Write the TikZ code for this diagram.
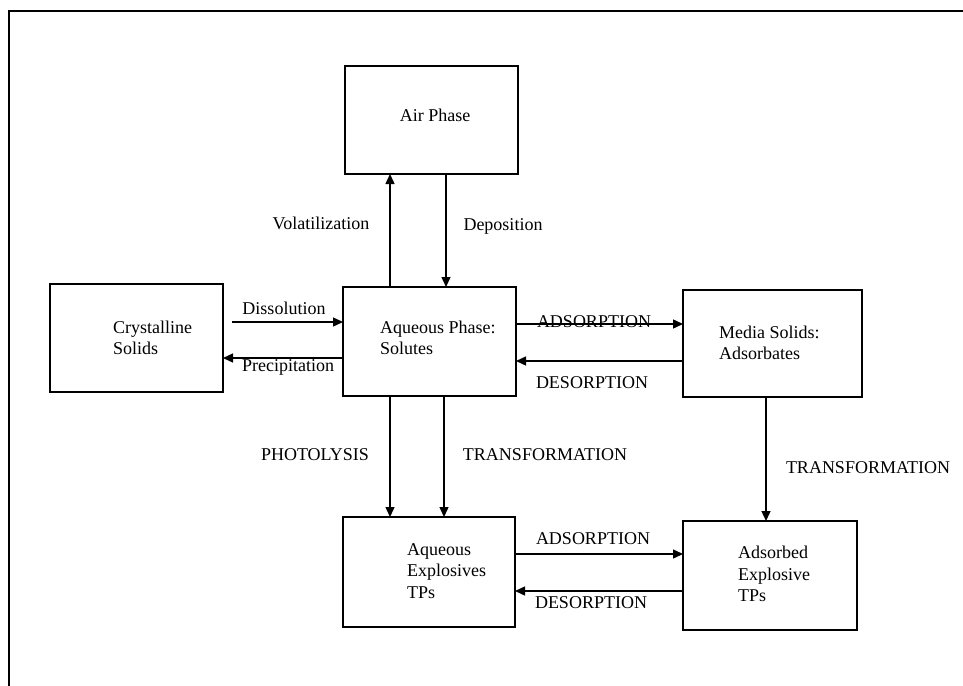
\documentclass[tikz,border=0pt]{standalone}
\usepackage{fontspec}
\setmainfont{Liberation Serif}
\usetikzlibrary{arrows.meta}
\begin{document}
\begin{tikzpicture}[x=1pt,y=-1pt,
  box/.style={draw,line width=1.8pt,inner sep=0pt,outer sep=0pt},
  txt/.style={font=\fontsize{18}{21.5}\selectfont,inner sep=0pt,align=left},
  arr/.style={line width=1.4pt,-{Triangle[length=10pt,width=9pt]}}]
\useasboundingbox (0,0) rectangle (963,685);
% outer frame
\draw[line width=2pt] (9,690) -- (9,11) -- (970,11);
% boxes
\node[box,minimum width=173pt,minimum height=108pt] (air) at (431.5,120) {};
\node[box,minimum width=173pt,minimum height=108pt] (cry) at (136.5,338) {};
\node[box,minimum width=173pt,minimum height=109pt] (aq) at (429.5,341.5) {};
\node[box,minimum width=179pt,minimum height=107pt] (med) at (772.5,343.5) {};
\node[box,minimum width=172pt,minimum height=110pt] (aqx) at (429,572) {};
\node[box,minimum width=174pt,minimum height=109pt] (ads) at (770,575.5) {};
% box texts
\node[txt] (airT) at (435,115) {Air Phase};
\node[txt,anchor=west] (cryT) at (113,338) {Crystalline\\Solids};
\node[txt,anchor=west] (aqT) at (380,338) {Aqueous Phase:\\Solutes};
\node[txt,anchor=west] (medT) at (719,343) {Media Solids:\\Adsorbates};
\node[txt,anchor=west] (aqxT) at (407,571) {Aqueous\\Explosives\\TPs};
\node[txt,anchor=west] (adsT) at (738,574) {Adsorbed\\Explosive\\TPs};
% labels
\node[txt] (lvol) at (321,223) {Volatilization};
\node[txt] (ldep) at (503,226) {Deposition};
\node[txt] (ldis) at (284,308) {Dissolution};
\node[txt] (lpre) at (288,367) {Precipitation};
\node[txt,anchor=base] (ladsU) at (594,327) {ADSORPTION};
\node[txt] (ldesU) at (592,383) {DESORPTION};
\node[txt] (lpho) at (315,455) {PHOTOLYSIS};
\node[txt] (ltrM) at (545,455) {TRANSFORMATION};
\node[txt] (ltrR) at (868,468) {TRANSFORMATION};
\node[txt] (ladsL) at (593,539) {ADSORPTION};
\node[txt] (ldesL) at (591,603) {DESORPTION};
% connectors
\draw[arr] ([xshift=47pt]aq.north west) -- ([xshift=45pt]air.south west);
\draw[arr] ([xshift=101pt]air.south west) -- ([xshift=103pt]aq.north west);
\draw[arr] ([xshift=9pt,yshift=-38pt]cry.north east) -- ([yshift=-35pt]aq.north west);
\draw[arr] ([yshift=-71pt]aq.north west) -- ([yshift=-74pt]cry.north east);
\draw[arr] ([yshift=-37pt]aq.north east) -- ([yshift=-34pt]med.north west);
\draw[arr] ([yshift=-71pt]med.north west) -- ([yshift=-74pt]aq.north east);
\draw[arr] ([xshift=47pt]aq.south west) -- ([xshift=47pt]aqx.north west);
\draw[arr] ([xshift=101pt]aq.south west) -- ([xshift=101pt]aqx.north west);
\draw[arr] ([xshift=83pt]med.south west) -- ([xshift=83pt]ads.north west);
\draw[arr] ([yshift=-37pt]aqx.north east) -- ([yshift=-33pt]ads.north west);
\draw[arr] ([yshift=-70pt]ads.north west) -- ([yshift=-74pt]aqx.north east);
\end{tikzpicture}
\end{document}
